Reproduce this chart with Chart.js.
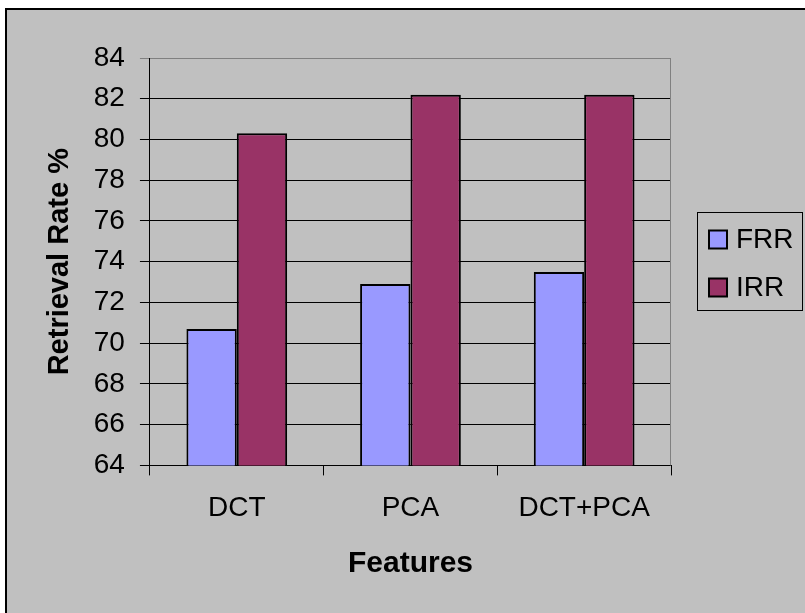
<!DOCTYPE html>
<html>
<head>
<meta charset="utf-8">
<script src="https://cdn.jsdelivr.net/npm/chart.js@4"></script>
<style>
  html, body { margin: 0; padding: 0; background: #fff; }
  #wrap { width: 805px; height: 613px; position: relative; }
</style>
</head>
<body>
<div id="wrap"><canvas id="chart"></canvas></div>
<script>
const features = ["DCT", "PCA", "DCT+PCA"];
const frr = [70.7, 72.9, 73.5];
const irr = [80.3, 82.2, 82.2];
const yMin = 64;
const yMax = 84;
const yStep = 2;

const FONT = 'Arial, "Liberation Sans", sans-serif';

// excel style grey panel, plot frame and boxed legend
const panel = {
    id: 'panel',
    beforeDraw(chart) {
        const ctx = chart.ctx;
        ctx.save();
        ctx.fillStyle = '#C0C0C0';
        ctx.fillRect(6, 9, chart.width - 6, chart.height - 9);
        ctx.strokeStyle = '#000';
        ctx.lineWidth = 2;
        ctx.beginPath();
        ctx.moveTo(6, chart.height);
        ctx.lineTo(6, 9);
        ctx.lineTo(chart.width, 9);
        ctx.stroke();
        ctx.restore();
    },
    afterDraw(chart) {
        const ctx = chart.ctx;
        const a = chart.chartArea;
        ctx.save();
        ctx.strokeStyle = '#808080';
        ctx.lineWidth = 1;
        ctx.beginPath();
        ctx.moveTo(a.left, a.top + 0.5);
        ctx.lineTo(a.right - 0.5, a.top + 0.5);
        ctx.lineTo(a.right - 0.5, a.bottom);
        ctx.stroke();

        // legend
        ctx.strokeStyle = '#000';
        ctx.lineWidth = 1;
        ctx.strokeRect(697.5, 212.5, 105, 98);
        ctx.font = '28px ' + FONT;
        ctx.textBaseline = 'middle';
        ctx.fillStyle = '#000';
        chart.data.datasets.forEach((ds, i) => {
            const cy = 239.5 + i * 48;
            ctx.fillStyle = ds.backgroundColor;
            ctx.fillRect(709, cy - 9, 18, 18);
            ctx.lineWidth = 2;
            ctx.strokeRect(709, cy - 9, 18, 18);
            ctx.fillStyle = '#000';
            ctx.fillText(ds.label, 736, cy + 1);
        });
        ctx.restore();
    }
};

new Chart(document.getElementById('chart'), {
    type: 'bar',
    data: {
        labels: features,
        datasets: [
            {
                label: 'FRR',
                data: frr,
                backgroundColor: '#9999FF',
                borderColor: '#000',
                borderWidth: 2,
                borderSkipped: false
            },
            {
                label: 'IRR',
                data: irr,
                backgroundColor: '#993366',
                borderColor: '#000',
                borderWidth: 2,
                borderSkipped: false
            }
        ]
    },
    options: {
        responsive: true,
        maintainAspectRatio: false,
        animation: false,
        layout: {
            padding: { left: 38, top: 58, right: 134, bottom: 31 }
        },
        datasets: {
            bar: {
                categoryPercentage: 0.58,
                barPercentage: 1.0
            }
        },
        plugins: {
            legend: { display: false },
            tooltip: { enabled: false }
        },
        scales: {
            x: {
                grid: {
                    offset: true,
                    drawOnChartArea: false,
                    drawTicks: true,
                    tickLength: 10,
                    color: '#000'
                },
                border: { display: true, color: '#000', width: 1 },
                ticks: {
                    color: '#000',
                    padding: 16,
                    maxRotation: 0,
                    font: { family: FONT, size: 28 }
                },
                title: {
                    display: true,
                    text: 'Features',
                    color: '#000',
                    padding: { top: 5, bottom: 0 },
                    font: { family: FONT, size: 30, weight: 'bold' }
                }
            },
            y: {
                min: yMin,
                max: yMax,
                ticks: {
                    stepSize: yStep,
                    color: '#000',
                    padding: 15,
                    font: { family: FONT, size: 28 }
                },
                grid: {
                    color: c => (c.tick && c.tick.value === yMax) ? '#808080' : '#000',
                    lineWidth: 1,
                    drawTicks: true,
                    tickLength: 10
                },
                border: { display: true, color: '#000', width: 1 },
                title: {
                    display: true,
                    text: 'Retrieval Rate %',
                    color: '#000',
                    padding: { top: 5, bottom: 1 },
                    font: { family: FONT, size: 29, weight: 'bold' }
                }
            }
        }
    },
    plugins: [panel]
});
</script>
</body>
</html>
